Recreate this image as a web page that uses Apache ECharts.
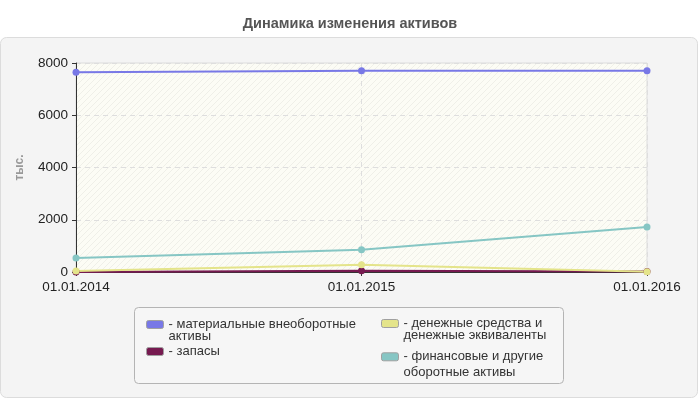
<!DOCTYPE html>
<html>
<head>
<meta charset="utf-8">
<script src="https://cdn.jsdelivr.net/npm/echarts@6/dist/echarts.min.js"></script>
<style>
  html, body { margin: 0; padding: 0; background: #fff; }
  #chart { width: 700px; height: 400px; }
</style>
</head>
<body>
<div id="chart"></div>
<script>
// data
var dates = ['01.01.2014', '01.01.2015', '01.01.2016'];
var seriesNames = [
  'материальные внеоборотные активы',
  'запасы',
  'денежные средства и денежные эквиваленты',
  'финансовые и другие оборотные активы'
];
var legendLabels = [
  '- материальные внеоборотные\nактивы',
  '- запасы',
  '- денежные средства и\nденежные эквиваленты',
  '- финансовые и другие\nоборотные активы'
];
var fixedAssets = [7650, 7700, 7700];
var stocks = [0, 50, 20];
var cash = [40, 280, 10];
var financial = [540, 850, 1720];
var colors = ['#7878e6', '#761a50', '#e4e48a', '#86c6c4'];
var yTicks = [0, 2000, 4000, 6000, 8000];

// hatch for plot background
var hatch = document.createElement('canvas');
hatch.width = 6; hatch.height = 6;
var hc = hatch.getContext('2d');
hc.fillStyle = '#fcfcf5';
hc.fillRect(0, 0, 6, 6);
hc.strokeStyle = '#efefe8';
hc.lineWidth = 1;
hc.beginPath();
hc.moveTo(0, 6); hc.lineTo(6, 0);
hc.moveTo(-1, 1); hc.lineTo(1, -1);
hc.moveTo(5, 7); hc.lineTo(7, 5);
hc.stroke();

// legend icon: rounded box at the top, blank space below so it sits on the first text line
function legendIcon(h) {
  return 'path://M2,0 H15 Q17,0 17,2 V6 Q17,8 15,8 H2 Q0,8 0,6 V2 Q0,0 2,0 Z M0,' + h;
}

function legendFor(i, left, top, lineH, iconH) {
  return {
    data: [seriesNames[i]],
    left: left,
    top: top,
    padding: 0,
    itemWidth: 17,
    itemHeight: iconH,
    icon: legendIcon(iconH),
    itemStyle: { borderColor: '#a0a0a0', borderWidth: 1 },
    selectedMode: false,
    formatter: function () { return legendLabels[i]; },
    textStyle: { fontFamily: 'Liberation Sans', fontSize: 13, color: '#333', lineHeight: lineH }
  };
}

var font = 'Liberation Sans';
var chart = echarts.init(document.getElementById('chart'));
chart.setOption({
  animation: false,
  backgroundColor: '#fff',
  title: {
    text: 'Динамика изменения активов',
    left: 'center',
    top: 11,
    textStyle: { fontFamily: font, fontSize: 14.5, fontWeight: 'bold', color: '#555' }
  },
  graphic: [
    {
      type: 'rect', z: -10, silent: true,
      shape: { x: 0.5, y: 37.5, width: 697, height: 360, r: 6 },
      style: { fill: '#f4f4f4', stroke: '#dcdcdc', lineWidth: 1 }
    },
    {
      type: 'rect', z: -5, silent: true,
      shape: { x: 134.5, y: 307.5, width: 429, height: 76, r: 4 },
      style: { fill: '#f6f6f6', stroke: '#b4b4b4', lineWidth: 1 }
    }
  ],
  legend: [
    legendFor(0, 146, 318, 12, 20),
    legendFor(1, 146, 345, 12, 8),
    legendFor(2, 381, 317, 12, 20),
    legendFor(3, 381, 349, 15.6, 23.6)
  ],
  grid: {
    left: 76, right: 53, top: 63, bottom: 128,
    show: true,
    backgroundColor: { image: hatch, repeat: 'repeat' },
    borderColor: '#dcdcdc',
    borderWidth: 1
  },
  xAxis: {
    type: 'category',
    data: dates,
    boundaryGap: false,
    axisLine: { lineStyle: { color: '#333', width: 1 } },
    axisTick: { show: true, length: 4, lineStyle: { color: '#333' } },
    axisLabel: { fontFamily: font, fontSize: 13.5, color: '#222', margin: 8 },
    splitLine: { show: true, lineStyle: { color: '#dedede', type: [5, 4] } }
  },
  yAxis: {
    type: 'value',
    min: yTicks[0],
    max: yTicks[yTicks.length - 1],
    interval: yTicks[1] - yTicks[0],
    name: 'тыс.',
    nameLocation: 'middle',
    nameRotate: 90,
    nameGap: 50,
    nameTextStyle: { fontFamily: font, fontSize: 12, fontWeight: 'bold', color: '#999' },
    axisLine: { show: true, lineStyle: { color: '#333', width: 1 } },
    axisTick: { show: true, length: 4, lineStyle: { color: '#333' } },
    axisLabel: {
      fontFamily: font, fontSize: 13.5, color: '#222', margin: 8,
      formatter: function (v) { return String(v); }
    },
    splitLine: { show: true, lineStyle: { color: '#dedede', type: [5, 4] } }
  },
  series: [
    { name: seriesNames[0], type: 'line', data: fixedAssets, color: colors[0] },
    { name: seriesNames[1], type: 'line', data: stocks, color: colors[1] },
    { name: seriesNames[2], type: 'line', data: cash, color: colors[2] },
    { name: seriesNames[3], type: 'line', data: financial, color: colors[3] }
  ].map(function (s) {
    s.symbol = 'circle';
    s.symbolSize = 7;
    s.lineStyle = { width: 2 };
    s.itemStyle = { color: s.color };
    return s;
  })
});
</script>
</body>
</html>
